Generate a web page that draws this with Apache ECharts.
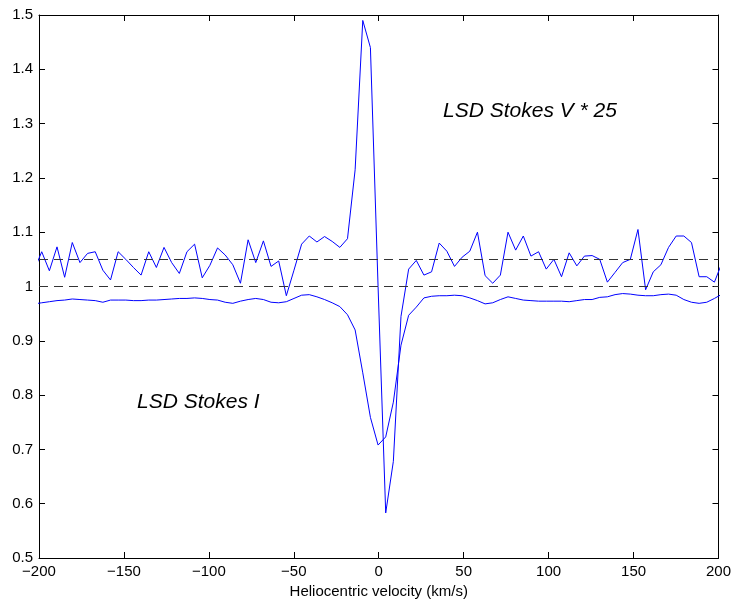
<!DOCTYPE html>
<html>
<head>
<meta charset="utf-8">
<script src="https://cdn.jsdelivr.net/npm/echarts@6/dist/echarts.min.js"></script>
<style>
html,body{margin:0;padding:0;background:#fff;}
#chart{width:734px;height:604px;}
</style>
</head>
<body>
<div id="chart"></div>
<script>
// Heliocentric velocity grid (km/s)
var velocity = [-202.9,-198.4,-193.9,-189.4,-184.9,-180.4,-175.9,-171.4,-166.9,-162.4,
  -157.9,-153.4,-148.9,-144.4,-139.9,-135.4,-130.9,-126.4,-121.9,-117.4,
  -112.9,-108.4,-103.9,-99.4,-94.9,-90.4,-85.9,-81.4,-76.9,-72.4,
  -67.9,-63.4,-58.9,-54.4,-49.9,-45.4,-40.9,-36.4,-31.9,-27.4,
  -22.9,-18.4,-13.9,-9.4,-4.9,-0.4,4.1,8.6,13.1,17.6,
  22.1,26.6,31.1,35.6,40.1,44.6,49.1,53.6,58.1,62.6,
  67.1,71.6,76.1,80.6,85.1,89.6,94.1,98.6,103.1,107.6,
  112.1,116.6,121.1,125.6,130.1,134.6,139.1,143.6,148.1,152.6,
  157.1,161.6,166.1,170.6,175.1,179.6,184.1,188.6,193.1,197.6,202.1];

// LSD Stokes V (x25, offset)
var stokesV = [1.030,1.064,1.029,1.073,1.017,1.081,1.044,1.061,1.064,1.030,
  1.012,1.064,1.050,1.035,1.021,1.064,1.035,1.072,1.044,1.024,
  1.064,1.078,1.016,1.039,1.071,1.058,1.040,1.006,1.086,1.044,
  1.084,1.037,1.047,0.983,1.030,1.078,1.093,1.082,1.092,1.083,
  1.072,1.088,1.215,1.490,1.440,1.000,0.583,0.678,0.945,1.032,
  1.048,1.021,1.027,1.080,1.065,1.037,1.054,1.065,1.100,1.020,
  1.006,1.021,1.100,1.067,1.093,1.056,1.064,1.032,1.050,1.018,
  1.062,1.038,1.056,1.057,1.050,1.008,1.026,1.044,1.050,1.105,
  0.994,1.027,1.040,1.072,1.093,1.093,1.081,1.018,1.018,1.008,1.044];

// LSD Stokes I
var stokesI = [0.968,0.970,0.972,0.974,0.975,0.977,0.976,0.975,0.974,0.971,
  0.975,0.975,0.975,0.974,0.974,0.975,0.975,0.976,0.977,0.978,
  0.978,0.979,0.978,0.976,0.975,0.971,0.969,0.973,0.976,0.978,
  0.976,0.971,0.970,0.972,0.978,0.984,0.985,0.981,0.976,0.970,
  0.963,0.948,0.920,0.841,0.759,0.708,0.723,0.787,0.892,0.947,
  0.962,0.979,0.982,0.983,0.983,0.984,0.983,0.979,0.974,0.968,
  0.970,0.976,0.981,0.978,0.975,0.974,0.973,0.973,0.973,0.973,
  0.972,0.974,0.976,0.976,0.980,0.981,0.985,0.987,0.986,0.984,
  0.983,0.983,0.985,0.986,0.984,0.976,0.971,0.969,0.971,0.978,0.986];

// Reference levels (dashed)
var refLevels = [1.0, 1.047];

var labelV = 'LSD Stokes V * 25';
var labelI = 'LSD Stokes I';
var xTitle = 'Heliocentric velocity (km/s)';

function pairs(xs, ys){ return xs.map(function(x,i){ return [x, ys[i]]; }); }

var FONT = '"Liberation Sans", Arial, Helvetica, sans-serif';
var chart = echarts.init(document.getElementById('chart'), null, {renderer:'canvas'});

var axisLineStyle = {show:true, onZero:false, lineStyle:{color:'#000', width:1}};
var tickStyle = {show:true, inside:true, length:6, lineStyle:{color:'#000', width:1}};

chart.setOption({
  animation:false,
  backgroundColor:'#fff',
  grid:{left:39, right:14, top:15, bottom:46, containLabel:false},
  xAxis:[{
    type:'value', min:-200, max:200, interval:50, position:'bottom',
    axisLine:axisLineStyle, axisTick:tickStyle, splitLine:{show:false},
    axisLabel:{color:'#000', fontSize:15, fontFamily:FONT, margin:6,
      formatter:function(v){ return String(v).replace('-', '\u2212'); }},
    name:xTitle, nameLocation:'middle', nameGap:26,
    nameTextStyle:{color:'#000', fontSize:15, fontFamily:FONT}
  },{
    type:'value', min:-200, max:200, interval:50, position:'top',
    axisLine:axisLineStyle, axisTick:tickStyle, axisLabel:{show:false}, splitLine:{show:false}
  }],
  yAxis:[{
    type:'value', min:0.5, max:1.5, interval:0.1, position:'left',
    axisLine:axisLineStyle, axisTick:tickStyle, splitLine:{show:false},
    axisLabel:{color:'#000', fontSize:15, fontFamily:FONT, margin:6,
      formatter:function(v){ return String(Math.round(v*10)/10); }}
  },{
    type:'value', min:0.5, max:1.5, interval:0.1, position:'right',
    axisLine:axisLineStyle, axisTick:tickStyle, axisLabel:{show:false}, splitLine:{show:false}
  }],
  series:[{
    type:'line', name:labelV, data:pairs(velocity, stokesV), showSymbol:false, symbol:'none',
    lineStyle:{color:'#0000ff', width:1}, clip:true, z:3,
    markLine:{silent:true, symbol:['none','none'], label:{show:false},
      lineStyle:{color:'#333', width:1, type:[9,6]},
      data:refLevels.map(function(v){ return {yAxis:v}; })}
  },{
    type:'line', name:labelI, data:pairs(velocity, stokesI), showSymbol:false, symbol:'none',
    lineStyle:{color:'#0000ff', width:1}, clip:true, z:3
  }],
  graphic:[
    {type:'text', left:443, top:101, style:{text:labelV, fill:'#000',
      font:'italic 21px ' + FONT}},
    {type:'text', left:137, top:392, style:{text:labelI, fill:'#000',
      font:'italic 21px ' + FONT}}
  ]
});
</script>
</body>
</html>
